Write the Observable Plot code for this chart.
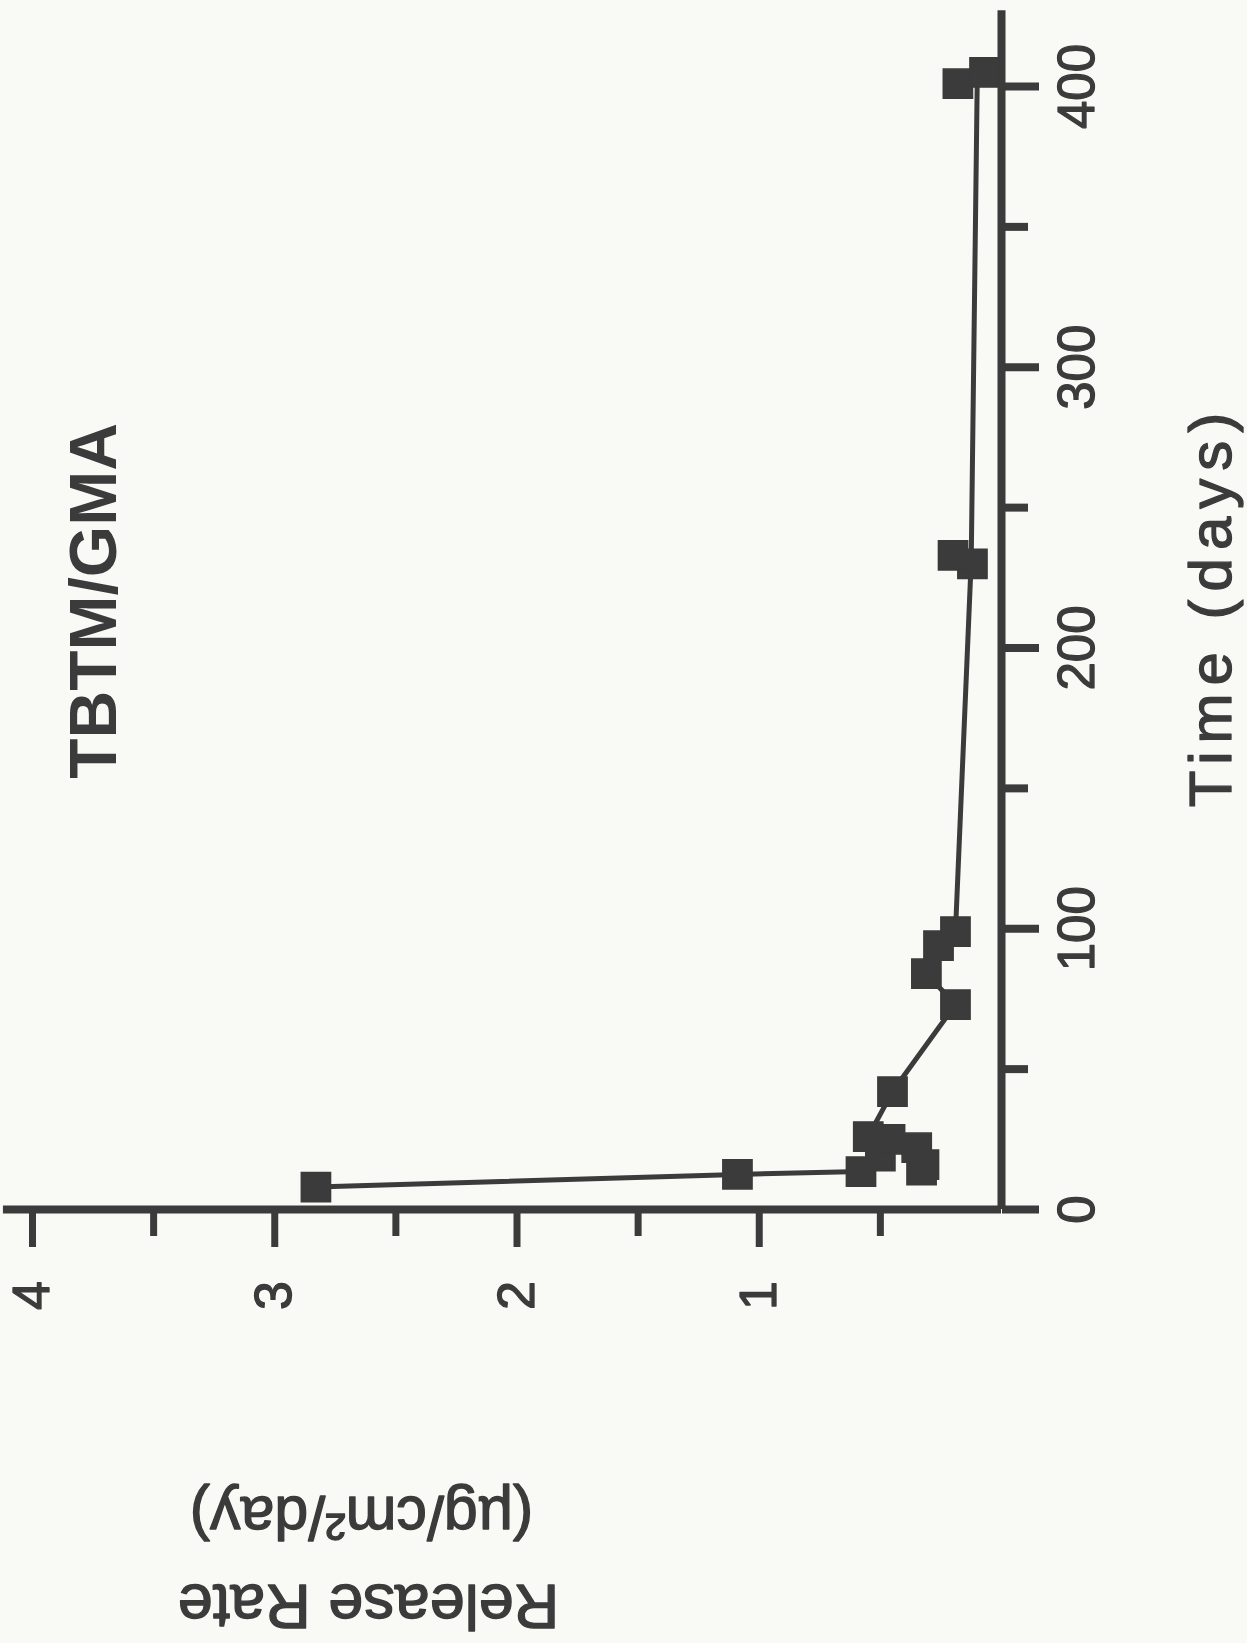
<!DOCTYPE html>
<html>
<head>
<meta charset="utf-8">
<script src="https://cdn.jsdelivr.net/npm/d3@7"></script>
<script src="https://cdn.jsdelivr.net/npm/@observablehq/plot@0.6"></script>
<style>
  html, body { margin: 0; padding: 0; background: #f9f9f6; }
</style>
</head>
<body>
<div id="chart"></div>
<script>
// ---- data ----
const titleText = "TBTM/GMA";
const timeLabel = "Time (days)";
const rateLabel = "Release Rate";
const rateUnits = "(µg/cm²/day)";

const timeMajorTicks = [0, 100, 200, 300, 400];
const timeMinorTicks = [50, 150, 250, 350];
const rateMajorTicks = [1, 2, 3, 4];
const rateMinorTicks = [0.5, 1.5, 2.5, 3.5];

// individual measurements (square markers)
const markerTime = [8, 12.5, 13.5, 14, 16, 19, 22, 25, 26, 42, 73, 84, 94, 99, 230, 233, 401, 405];
const markerRate = [2.83, 1.09, 0.58, 0.33, 0.32, 0.50, 0.35, 0.46, 0.55, 0.45, 0.19, 0.31, 0.26, 0.19, 0.12, 0.20, 0.18, 0.07];

// connecting line
const lineTime = [8, 12.5, 13.5, 19, 26, 42, 73, 84, 94, 99, 231, 403];
const lineRate = [2.83, 1.09, 0.58, 0.50, 0.55, 0.45, 0.19, 0.31, 0.26, 0.19, 0.125, 0.10];

const timeAxisTop = 427;
const rateAxisLeft = 4.12;

// ---- build ----
const ink = "#3b3b3b";
const markers = markerTime.map((t, i) => ({time: t, rate: markerRate[i]}));
const lineData = lineTime.map((t, i) => ({time: t, rate: lineRate[i]}));
const font = "'Liberation Sans', Arial, Helvetica, sans-serif";
const heavy = {fill: ink, stroke: ink, strokeWidth: 1.3, textAnchor: "middle", lineAnchor: "middle"};

const svg = Plot.plot({
  width: 1247,
  height: 1643,
  marginLeft: 32,
  marginRight: 246,
  marginTop: 86,
  marginBottom: 434,
  x: {domain: [4, 0]},
  y: {domain: [0, 400]},
  style: {background: "#f9f9f6", fontFamily: font, color: ink, overflow: "visible"},
  marks: [
    // axis lines
    Plot.ruleX([0], {y1: 0, y2: timeAxisTop, stroke: ink, strokeWidth: 8}),
    Plot.ruleY([0], {x1: rateAxisLeft, x2: 0, stroke: ink, strokeWidth: 8}),
    // time ticks (right side)
    Plot.axisY({anchor: "right", ticks: timeMajorTicks, tickSize: 37, strokeWidth: 8, stroke: ink, tickFormat: () => "", label: null}),
    Plot.axisY({anchor: "right", ticks: timeMinorTicks, tickSize: 26, strokeWidth: 8, stroke: ink, tickFormat: () => "", label: null}),
    // rate ticks (bottom)
    Plot.axisX({anchor: "bottom", ticks: rateMajorTicks, tickSize: 38, strokeWidth: 7, stroke: ink, tickFormat: () => "", label: null}),
    Plot.axisX({anchor: "bottom", ticks: rateMinorTicks, tickSize: 27, strokeWidth: 7, stroke: ink, tickFormat: () => "", label: null}),
    // tick labels
    Plot.text(timeMajorTicks, {y: d => d, frameAnchor: "right", dx: 76, rotate: -90, text: d => String(d), fontSize: 51, ...heavy}),
    Plot.text(rateMajorTicks, {x: d => d, frameAnchor: "bottom", dy: 86, rotate: -90, text: d => String(d), fontSize: 52, ...heavy}),
    // data
    Plot.line(lineData, {x: "rate", y: "time", stroke: ink, strokeWidth: 5}),
    Plot.dot(markers, {x: "rate", y: "time", symbol: "square", r: 16.5, fill: ink, stroke: ink, strokeWidth: 1.5}),
    // labels
    Plot.text([titleText], {frameAnchor: "left", dx: 62, dy: -47, rotate: -90, text: d => d, fontSize: 66, fontWeight: "bold", fill: ink, textAnchor: "middle", lineAnchor: "middle"}),
    Plot.text([timeLabel], {frameAnchor: "right", dx: 210, dy: -42, rotate: -90, text: d => d, fontSize: 60, ...heavy}),
    Plot.text([rateLabel], {frameAnchor: "bottom-left", dx: 336, dy: 396, rotate: 180, text: d => d, fontSize: 63, ...heavy}),
    Plot.text([rateUnits], {frameAnchor: "bottom-left", dx: 329, dy: 307, rotate: 180, text: d => d, fontSize: 61, ...heavy})
  ]
});

d3.select(svg).selectAll("text")
  .filter(function() { return this.textContent === timeLabel; })
  .attr("letter-spacing", 8);

document.getElementById("chart").appendChild(svg);
</script>
</body>
</html>
